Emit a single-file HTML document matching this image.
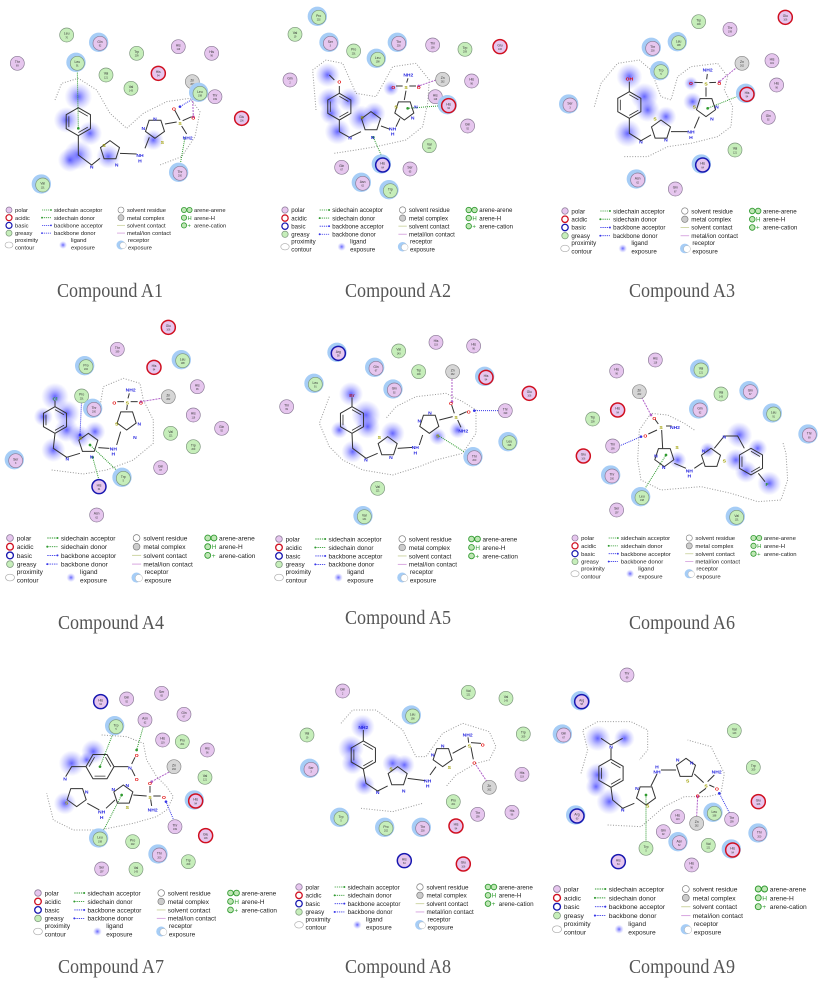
<!DOCTYPE html>
<html><head><meta charset="utf-8">
<style>
html,body{margin:0;padding:0;background:#fff;}
svg{display:block;font-family:"Liberation Sans",sans-serif;}
</style></head>
<body>
<svg id="fig" width="827" height="997" viewBox="0 0 827 997" xmlns="http://www.w3.org/2000/svg">
<defs>
<radialGradient id="blob"><stop offset="0" stop-color="#3030ff" stop-opacity="0.75"/><stop offset="0.5" stop-color="#5a5aff" stop-opacity="0.35"/><stop offset="1" stop-color="#8080ff" stop-opacity="0"/></radialGradient>
</defs>
</svg>
<script>
const NS="http://www.w3.org/2000/svg";
const svg=document.getElementById('fig');
function mk(tag,attrs,parent){const e=document.createElementNS(NS,tag);for(const k in attrs)e.setAttribute(k,attrs[k]);(parent||svg).appendChild(e);return e;}

// panel origins [x,y] in pixels
const panelOrigins=[[0,0],[276,0],[551,0],[0,320],[276,320],[551,320],[0,660],[276,660],[551,660]];
const captions=["Compound A1","Compound A2","Compound A3","Compound A4","Compound A5","Compound A6","Compound A7","Compound A8","Compound A9"];
const captionPos=[[110,290],[122,290],[131,290],[111,622],[122,617],[131,622],[111,966],[122,966],[131,966]];
const legendPos=[[9,210,1.0],[9,210,1.05],[14,211,1.07],[10,538,1.13],[3,539,1.1],[24,538,1.02],[38,893,1.1],[23,887,1.08],[6,889,1.15]];

// residues: [name, number, type, x, y, exposed]  (zoom units = 3x pixels)
const res1=[["Leu","70","g",200,105,0],["Gln","92","p",300,130,1],["Thr","69","p",52,190,0],["Leu","91","g",232,190,1],["Val","121","g",318,225,0],["Trp","209","g",410,160,0],["His","119","p",535,140,0],["His","96","p",635,160,0],["His","94","a",475,220,0],["Val","143","g",393,265,0],["Zn","262","m",577,245,0],["Leu","198","g",600,280,1],["Thr","199","p",645,290,0],["Glu","106","a",725,355,0],["Thr","200","p",540,520,1],["Val","131","g",128,555,1]];
const res2=[["Pro","202","g",128,52,1],["Val","19","g",57,103,0],["Ser","3","p",163,130,1],["Pro","201","g",233,153,0],["Leu","198","g",305,178,1],["Thr","200","p",368,130,1],["Thr","199","p",470,135,0],["Trp","209","g",567,148,0],["Glu","106","a",672,140,0],["Gln","2","p",42,240,0],["Zn","262","m",500,238,0],["His","96","p",587,243,0],["His","119","p",478,290,0],["His","94","a",518,317,1],["Gln","92","p",575,378,0],["Val","121","g",460,437,0],["Gln","67","p",197,502,0],["His","64","b",320,495,1],["Ser","65","p",402,507,0],["Asn","62","p",260,550,1],["Trp","5","g",343,572,1]];
const res3=[["Trp","209","g",443,65,0],["Glu","106","a",703,52,0],["Thr","199","p",537,88,0],["Leu","198","g",383,128,1],["Thr","200","p",305,145,1],["Trp","5","g",330,215,1],["Zn","262","m",573,190,0],["His","119","p",663,182,0],["His","96","p",677,255,0],["His","94","a",588,283,1],["Ser","3","p",57,315,1],["Gln","92","p",652,352,0],["Val","121","g",552,450,0],["His","64","b",455,495,1],["Asn","62","p",260,540,1],["Gln","67","p",373,567,0]];
const res4=[["Glu","106","a",505,22,0],["Thr","199","p",352,88,0],["Pro","202","g",258,140,1],["His","94","a",462,142,0],["Leu","198","g",548,122,1],["His","96","p",592,200,0],["Pro","201","g",245,228,0],["Zn","262","m",505,230,0],["Thr","200","p",282,268,1],["His","119","p",580,285,0],["Gln","92","p",665,325,0],["Val","121","g",512,340,0],["Trp","209","g",580,380,0],["Ser","3","p",47,422,1],["Gln","67","p",482,443,0],["Trp","5","g",370,475,1],["His","64","b",297,500,0],["Asn","62","p",290,585,0]];
const res5=[["His","119","p",480,67,0],["His","96","p",593,78,0],["Val","143","g",368,93,0],["Arg","58","b",187,100,1],["Gln","67","p",300,145,1],["Trp","209","g",428,155,0],["Zn","262","m",530,155,0],["His","94","a",630,172,1],["Leu","91","g",118,193,1],["Gln","92","p",355,210,1],["Glu","106","a",760,220,0],["Thr","69","p",32,260,0],["Thr","199","p",688,272,0],["Leu","198","g",700,368,1],["Thr","200","p",595,413,1],["Val","121","g",305,505,0],["Val","131","g",265,590,1]];
const res6=[["His","119","p",313,120,0],["His","96","p",197,153,0],["Val","121","g",450,150,1],["Zn","262","m",265,215,0],["Val","143","g",510,222,0],["Gln","67","p",598,215,1],["His","94","a",200,270,0],["Gln","92","p",447,270,1],["Leu","91","g",668,282,1],["Trp","209","g",125,297,0],["Thr","69","p",775,345,1],["Thr","199","p",185,378,0],["Glu","106","a",97,408,0],["Thr","200","p",183,468,1],["Leu","198","g",273,533,1],["Ser","197","p",197,570,0],["Val","131","g",557,592,1]];
const res7=[["His","64","b",302,125,0],["Gln","92","p",380,117,0],["Ser","65","p",485,100,0],["Gln","67","p",552,163,0],["Asn","62","p",435,180,0],["Trp","5","g",348,200,1],["His","119","p",488,240,0],["Pro","201","g",547,245,0],["His","96","p",622,270,0],["Zn","262","m",522,320,0],["Val","121","g",615,352,0],["His","94","a",587,423,1],["Glu","106","a",617,527,0],["Thr","199","p",525,500,0],["Leu","198","g",300,537,1],["Pro","202","g",398,545,0],["Thr","200","p",478,585,1],["Trp","209","g",565,605,0],["Ser","197","p",305,627,0],["Val","143","g",408,628,0]];
const res8=[["Gln","2","p",200,93,0],["Val","121","g",577,97,0],["Val","143","g",690,115,0],["Leu","198","g",410,168,1],["Val","19","g",93,225,0],["Trp","209","g",742,222,0],["Ser","3","p",105,328,1],["His","119","p",738,343,0],["Zn","262","m",640,382,0],["Pro","201","g",532,425,0],["Trp","5","g",195,475,1],["His","96","p",708,457,0],["Thr","199","p",605,463,0],["Pro","202","g",330,505,1],["Thr","200","p",440,505,1],["His","94","a",540,498,0],["His","64","b",385,602,0],["Glu","106","a",562,612,0]];
const res9=[["Thr","69","p",228,45,0],["Arg","58","b",92,125,1],["Gln","67","p",38,225,1],["Val","143","g",550,212,0],["Trp","209","g",607,322,0],["Glu","106","a",622,425,0],["Arg","60","b",78,468,1],["His","119","p",380,470,0],["Leu","198","g",490,460,1],["Thr","199","p",542,478,0],["Zn","262","m",437,490,0],["Gln","92","p",337,515,0],["Thr","200","p",625,522,1],["Asn","62","p",385,548,1],["Val","121","g",472,556,0],["Trp","5","g",285,565,0],["His","94","a",545,570,1],["His","64","b",202,605,0],["His","96","p",422,615,0]];
const residues=[res1,res2,res3,res4,res5,res6,res7,res8,res9];

// ligand geometry per panel (zoom units)
const lig=[
{rings:[[235,365,42,6,0],[330,452,30,5,0],[465,385,30,5,180]],
 bonds:[[235,407,235,465,275,495,300,475],[360,460,410,462],[435,445,448,412],[495,372,530,366],[540,360,524,330],[548,362,575,350],[545,378,560,402]],
 labels:[["N",275,500,"#2a2ae0"],["S",312,436,"#a0a000"],["N",350,495,"#2a2ae0"],["NH",420,466,"#2a2ae0"],["H",420,482,"#2a2ae0"],["N",465,357,"#2a2ae0"],["N",430,385,"#2a2ae0"],["S",487,427,"#a0a000"],["S",540,370,"#a0a000"],["O",522,327,"#e00000"],["O",580,354,"#e00000"],["NH2",563,414,"#2a2ae0"]],
 blobs:[[235,290,32],[200,360,30],[270,400,28],[235,465,34],[210,480,28],[325,470,28],[460,420,24]],
 contour:[[165,300],[185,250],[235,235],[290,270],[330,340],[380,385],[430,340],[500,305],[570,295],[600,335],[585,410],[545,470],[480,495]],
 inter:[[232,212,235,385,"g"],[590,290,540,320,"b"],[577,267,580,350,"m"],[555,412,540,498,"g"]]},
{rings:[[190,320,40,6,0],[285,365,30,5,0],[385,330,30,5,180]],
 bonds:[[190,280,190,258],[175,240,160,225],[190,360,190,395,220,412,255,395],[315,378,342,388],[360,380,372,355],[385,300,390,272],[380,258,360,258],[400,258,420,258],[392,248,396,235]],
 labels:[["O",190,245,"#e00000"],["N",222,414,"#2a2ae0"],["S",258,352,"#a0a000"],["N",290,412,"#2a2ae0"],["NH",350,386,"#2a2ae0"],["H",350,402,"#2a2ae0"],["S",360,320,"#a0a000"],["N",420,320,"#2a2ae0"],["N",410,354,"#2a2ae0"],["S",390,262,"#a0a000"],["O",352,262,"#e00000"],["O",428,262,"#e00000"],["NH2",397,224,"#2a2ae0"]],
 blobs:[[155,225,28],[160,300,28],[220,300,28],[165,340,26],[185,395,30],[255,355,30],[295,340,26],[345,265,18]],
 contour:[[120,330],[110,210],[150,180],[200,190],[240,280],[300,290],[350,200],[420,190],[460,240],[455,310],[440,380],[390,420],[300,440],[240,450],[175,460]],
 inter:[[320,475,292,412,"g"],[498,317,395,325,"g"],[480,240,428,258,"m"]]},
{rings:[[235,315,40,6,0],[330,390,30,5,0],[465,320,30,5,180]],
 bonds:[[235,275,235,245],[235,355,235,400,270,422,300,405],[360,395,410,395],[430,385,445,350],[465,290,465,262],[455,248,430,247],[475,248,495,247],[467,238,469,222]],
 labels:[["OH",235,236,"#e00000"],["N",270,426,"#2a2ae0"],["S",312,357,"#a0a000"],["N",345,420,"#2a2ae0"],["NH",420,396,"#2a2ae0"],["H",420,412,"#2a2ae0"],["S",430,320,"#a0a000"],["N",498,320,"#2a2ae0"],["N",483,357,"#2a2ae0"],["S",465,252,"#a0a000"],["O",420,250,"#e00000"],["O",505,250,"#e00000"],["NH2",470,210,"#2a2ae0"]],
 blobs:[[235,230,30],[280,290,32],[290,330,28],[230,400,32],[345,350,24],[425,305,22],[420,250,16]],
 contour:[[130,320],[150,250],[200,190],[265,180],[300,210],[330,290],[360,300],[380,230],[420,200],[500,190],[530,230],[520,270],[545,320],[540,380],[500,410],[420,430],[350,440],[290,470],[220,470]],
 inter:[[570,285,470,325,"g"],[560,200,505,245,"m"]]},
{rings:[[165,300,40,6,0],[265,370,30,5,0],[380,300,30,5,180]],
 bonds:[[165,260,165,242],[165,340,160,385,200,412,240,400],[295,383,328,385],[350,375,362,335],[380,270,382,255],[372,245,352,245],[392,245,413,245],[384,235,388,220]],
 labels:[["Cl",165,237,"#209020"],["N",202,416,"#2a2ae0"],["S",242,354,"#a0a000"],["N",275,410,"#2a2ae0"],["NH",340,386,"#2a2ae0"],["H",340,402,"#2a2ae0"],["S",350,312,"#a0a000"],["N",418,312,"#2a2ae0"],["N",405,352,"#2a2ae0"],["S",382,249,"#a0a000"],["O",343,249,"#e00000"],["O",423,249,"#e00000"],["NH2",392,210,"#2a2ae0"]],
 blobs:[[165,230,32],[200,280,30],[200,330,28],[130,290,22],[160,390,28],[240,350,26],[285,335,24]],
 contour:[[155,450],[250,462],[320,450],[400,420],[460,370],[460,300],[430,240],[420,190],[370,175],[310,200],[300,260],[265,290],[262,250]],
 inter:[[245,236,240,345,"b"],[297,480,278,412,"g"],[365,465,270,375,"g"],[490,234,423,245,"m"]]},
{rings:[[228,300,40,6,0],[335,380,30,5,0],[460,310,30,5,180]],
 bonds:[[228,260,228,232],[228,340,230,385,270,415,305,400],[365,385,410,382],[430,375,440,345],[490,300,530,290],[535,280,527,255],[550,285,572,275],[545,300,555,322]],
 labels:[["Br",228,226,"#a02040"],["N",270,420,"#2a2ae0"],["S",310,352,"#a0a000"],["N",345,412,"#2a2ae0"],["NH",418,382,"#2a2ae0"],["H",418,398,"#2a2ae0"],["N",462,278,"#2a2ae0"],["N",430,302,"#2a2ae0"],["S",485,347,"#a0a000"],["S",540,292,"#a0a000"],["O",525,250,"#e00000"],["O",578,275,"#e00000"],["NH2",562,332,"#2a2ae0"]],
 blobs:[[225,222,28],[270,285,34],[275,320,28],[190,330,20],[230,395,26],[350,340,28],[485,350,20],[545,330,20]],
 contour:[[160,230],[130,310],[160,380],[200,420],[260,450],[350,465],[430,440],[480,420],[560,400],[600,340],[600,270],[560,245],[510,220],[420,230],[360,260],[330,295]],
 inter:[[528,177,528,245,"m"],[666,272,595,272,"b"],[485,345,580,405,"g"]]},
{rings:[[340,410,30,5,180],[480,415,30,5,0],[600,425,40,6,0]],
 bonds:[[335,385,332,330],[322,312,312,298],[318,330,292,342],[345,318,362,318],[370,430,405,445],[430,445,455,428],[490,385,520,348,560,348,580,385],[622,460,642,485]],
 labels:[["N",315,407,"#2a2ae0"],["N",338,442,"#2a2ae0"],["S",378,382,"#a0a000"],["NH",415,452,"#2a2ae0"],["H",415,468,"#2a2ae0"],["N",458,392,"#2a2ae0"],["S",520,422,"#a0a000"],["N",520,350,"#2a2ae0"],["F",648,493,"#209020"],["S",330,322,"#a0a000"],["O",310,295,"#e00000"],["O",283,348,"#e00000"],["NH2",372,322,"#2a2ae0"]],
 blobs:[[565,345,30],[555,420,26],[620,385,22],[585,455,26],[655,490,28],[470,390,18],[380,420,20]],
 contour:[[430,330],[400,310],[350,285],[300,280],[265,330],[260,420],[270,480],[330,510],[450,500],[540,520],[620,545],[690,540],[710,480],[705,400],[695,365]],
 inter:[[272,232,300,285,"m"],[205,378,270,350,"b"],[278,512,345,405,"g"]]},
{rings:[[300,320,42,6,30],[230,410,30,5,180],[370,405,30,5,0]],
 bonds:[[342,320,385,320],[395,312,405,292],[395,328,405,348],[258,320,215,320,197,350],[262,430,298,450],[318,445,345,420],[400,405,440,408],[450,398,450,378],[460,408,482,408],[452,418,455,438]],
 labels:[["N",390,324,"#2a2ae0"],["O",410,286,"#e00000"],["O",410,358,"#e00000"],["N",195,356,"#2a2ae0"],["N",260,395,"#2a2ae0"],["S",200,428,"#a0a000"],["NH",305,456,"#2a2ae0"],["H",305,472,"#2a2ae0"],["N",340,388,"#2a2ae0"],["N",382,376,"#2a2ae0"],["S",382,442,"#a0a000"],["S",450,412,"#a0a000"],["O",450,370,"#e00000"],["O",492,412,"#e00000"],["NH2",458,450,"#2a2ae0"]],
 blobs:[[215,310,30],[280,275,28],[195,430,26],[260,300,18]],
 contour:[[305,225],[380,230],[430,250],[440,300],[470,350],[500,380],[520,410],[500,450],[470,470],[400,490],[350,500],[300,510],[220,510],[160,480],[140,400]],
 inter:[[340,218,300,320,"g"],[430,200,410,270,"g"],[515,332,455,365,"m"],[522,482,498,425,"b"],[305,522,365,405,"g"]]},
{rings:[[262,285,42,6,0],[365,350,30,5,0],[500,290,30,5,180]],
 bonds:[[262,243,262,210],[262,327,270,370,305,393,335,378],[395,355,448,362],[462,345,480,320],[530,280,570,258],[585,248,615,250],[585,262,592,298],[578,248,576,232]],
 labels:[["NH2",262,202,"#2a2ae0"],["N",305,397,"#2a2ae0"],["S",345,327,"#a0a000"],["N",383,392,"#2a2ae0"],["NH",455,362,"#2a2ae0"],["H",455,378,"#2a2ae0"],["N",470,284,"#2a2ae0"],["N",500,257,"#2a2ae0"],["S",520,322,"#a0a000"],["S",580,258,"#a0a000"],["O",620,255,"#e00000"],["O",595,308,"#e00000"],["NH2",575,224,"#2a2ae0"]],
 blobs:[[260,200,28],[225,265,30],[230,310,26],[265,375,24],[350,310,24],[385,315,24]],
 contour:[[195,190],[230,150],[300,150],[380,210],[420,290],[450,290],[500,220],[560,190],[640,215],[660,260],[640,300],[600,310],[540,345],[510,380]],
 contour2:[[255,445],[350,455],[440,430]],
 inter:[[600,315,635,368,"m"]]},
{rings:[[180,340,42,6,0],[285,405,30,5,180],[405,325,30,5,0]],
 bonds:[[180,255,150,235],[180,255,215,235],[180,265,180,298],[180,382,185,420,215,445,250,430],[300,378,318,342],[330,330,375,330],[430,342,458,368],[465,385,445,400],[475,375,490,382],[470,365,490,345]],
 labels:[["N",180,260,"#2a2ae0"],["N",215,450,"#2a2ae0"],["N",258,385,"#2a2ae0"],["S",290,438,"#a0a000"],["NH",318,335,"#2a2ae0"],["H",318,320,"#2a2ae0"],["N",380,300,"#2a2ae0"],["N",422,308,"#2a2ae0"],["S",410,362,"#a0a000"],["S",465,378,"#a0a000"],["O",440,408,"#e00000"],["O",498,386,"#e00000"],["NH2",497,336,"#2a2ae0"]],
 blobs:[[140,235,30],[220,235,24],[140,345,28],[135,380,24],[175,425,30]],
 contour:[[90,340],[110,270],[95,210],[140,185],[240,185],[290,210],[290,270],[265,300]],
 contour2:[[170,495],[270,500],[340,440],[400,410],[470,410],[510,400],[520,340],[480,260],[410,240]],
 inter:[[285,545,285,405,"g"],[437,470,440,410,"m"],[535,458,505,400,"b"]]}
];

const typeStyle={p:["#e6c6ee","#8a7a96",2],g:["#c6eeba","#7c967c",2],a:["#e6c6ee","#d01020",4.5],b:["#e6c6ee","#1818b0",4.5],m:["#d6d6d6","#888888",2]};
const interColor={g:"#2f9a2f",b:"#3535e8",m:"#b060c8"};

function pathFrom(pts){return "M"+pts.map(p=>p[0]+","+p[1]).join(" L");}

for(let i=0;i<9;i++){
  const [ox,oy]=panelOrigins[i];
  const P=mk('g',{transform:`translate(${ox},${oy})`});
  
  
  const D=mk('g',{transform:'scale(0.3333)'},P);
  
  
  const L=lig[i];
  L.blobs.forEach(b=>{const c=mk('circle',{cx:b[0],cy:b[1],r:b[2]*1.3,fill:'url(#blob)'},D);
    
    });
  [L.contour,L.contour2].forEach(ct=>{if(!ct)return;
    const c=mk('path',{d:pathFrom(ct),fill:'none',stroke:'#999',"stroke-width":3,"stroke-dasharray":"3 5","stroke-linejoin":"round"},D);
    
    });
  L.inter.forEach(t=>{const c=mk('line',{x1:t[0],y1:t[1],x2:t[2],y2:t[3],stroke:interColor[t[4]],"stroke-width":3,"stroke-dasharray":t[4]=="m"?"6 3":"3 3"},D);
    
    
    mk('circle',{cx:t[2],cy:t[3],r:4,fill:interColor[t[4]]},D);});
  L.rings.forEach(r=>{const [cx,cy,rad,n,rot]=r;const pts=[];
    for(let k=0;k<n;k++){const a=(-90+rot+k*360/n)*Math.PI/180;pts.push([cx+rad*Math.cos(a),cy+rad*Math.sin(a)]);}
    const c=mk('path',{d:pathFrom(pts)+"Z",fill:'none',stroke:'#333',"stroke-width":3},D);
    
    
    if(n==6){const inner=pts.map(p=>[cx+(p[0]-cx)*0.78,cy+(p[1]-cy)*0.78]);
      mk('path',{d:`M${inner[0]} L${inner[1]} M${inner[2]} L${inner[3]} M${inner[4]} L${inner[5]}`,fill:'none',stroke:'#333',"stroke-width":2.5},D);}});
  L.bonds.forEach(b=>{const pts=[];for(let k=0;k<b.length;k+=2)pts.push([b[k],b[k+1]]);
    const c=mk('path',{d:pathFrom(pts),fill:'none',stroke:'#333',"stroke-width":3},D);
    
    });
  L.labels.forEach(l=>{const t=mk('text',{x:l[1],y:l[2]+5,"font-size":15,"text-anchor":"middle",fill:l[3],"font-weight":"bold"},D);
    t.textContent=l[0];
    
    });
  residues[i].forEach(r=>{const [nm,num,ty,x,y,ex]=r;const st=typeStyle[ty];
    const g=mk('g',{},D);
    
    
    if(ex)mk('circle',{cx:x-4,cy:y-3,r:29,fill:'#a6cdf6'},g);
    mk('circle',{cx:x,cy:y,r:21,fill:st[0],stroke:st[1],"stroke-width":st[2]},g);
    const t1=mk('text',{x:x,y:y-1,"font-size":10,"text-anchor":"middle",fill:'#333'},g);t1.textContent=nm;
    const t2=mk('text',{x:x,y:y+10,"font-size":7,"text-anchor":"middle",fill:'#333'},g);t2.textContent=num;});

  // legend (x local to panel, y absolute)
  const [lx,ly,ls]=legendPos[i];
  const G=mk('g',{transform:`translate(${ox+lx},${ly}) scale(${ls})`});
  
  
  const fs=5.8,dy=7.7;
  const col1=[["polar","#e6c6ee","#8a7a96",0.7],["acidic","#fff","#d01020",1.2],["basic","#fff","#1818b0",1.2],["greasy","#c6eeba","#7c967c",0.7]];
  col1.forEach((c,k)=>{mk('circle',{cx:0,cy:k*dy,r:3,fill:c[1],stroke:c[2],"stroke-width":c[3]},G);
    const t=mk('text',{x:6,y:k*dy+2.1,"font-size":fs,fill:'#222'},G);t.textContent=c[0];
    });
  const col2=[["sidechain acceptor","#2f9a2f",1],["sidechain donor","#2f9a2f",-1],["backbone acceptor","#3535e8",1],["backbone donor","#3535e8",-1]];
  col2.forEach((c,k)=>{const y=k*dy;mk('line',{x1:33,y1:y,x2:42,y2:y,stroke:c[1],"stroke-width":0.8,"stroke-dasharray":"1.2 0.8"},G);
    mk('circle',{cx:c[2]>0?42:33,cy:y,r:0.9,fill:c[1]},G);
    const t=mk('text',{x:45,y:y+2.1,"font-size":fs,fill:'#222'},G);t.textContent=c[0];
    });
  const col3=[["solvent residue","c","#fff"],["metal complex","c","#ccc"],["solvent contact","l","#cfd6a6"],["metal/ion contact","l","#d8a8e0"]];
  col3.forEach((c,k)=>{const y=k*dy;
    if(c[1]=="c")mk('circle',{cx:112,cy:y,r:3,fill:c[2],stroke:'#777',"stroke-width":0.6},G);
    else mk('line',{x1:108,y1:y,x2:116,y2:y,stroke:c[2],"stroke-width":0.9},G);
    const t=mk('text',{x:118,y:y+2.1,"font-size":fs,fill:'#222'},G);t.textContent=c[0];
    });
  const col4=[["arene-arene","oo"],["arene-H","H"],["arene-cation","+"]];
  col4.forEach((c,k)=>{const y=k*dy;
    mk('circle',{cx:175,cy:y,r:2.6,fill:'#bfe6b5',stroke:'#2f9a2f',"stroke-width":0.8},G);
    if(c[1]=="oo")mk('circle',{cx:180.5,cy:y,r:2.6,fill:'#bfe6b5',stroke:'#2f9a2f',"stroke-width":0.8},G);
    else{const tt=mk('text',{x:178.5,y:y+2.1,"font-size":fs,fill:'#2f9a2f'},G);tt.textContent=c[1];}
    const t=mk('text',{x:185,y:y+2.1,"font-size":fs,fill:'#222'},G);t.textContent=c[0];
    });
  mk('ellipse',{cx:0,cy:35,rx:4,ry:3,fill:'#fff',stroke:'#aaa',"stroke-width":0.6},G);
  [["proximity",6,32],["contour",6,39.5],["ligand",62,32],["exposure",62,39.5],["receptor",119,32],["exposure",119,39.5]].forEach(a=>{
    const t=mk('text',{x:a[1],y:a[2],"font-size":fs,fill:'#222'},G);t.textContent=a[0];
    });
  mk('circle',{cx:54,cy:35,r:4,fill:'url(#blob)'},G);
  mk('circle',{cx:112,cy:35,r:4.5,fill:'#a6cdf6'},G);
  mk('circle',{cx:114,cy:35.5,r:3.2,fill:'#fff',stroke:'#aaa',"stroke-width":0.4},G);

  // caption
  const [cx,cy]=captionPos[i];
  const cap=mk('text',{x:ox+cx,y:cy+7,"font-size":20,"text-anchor":"middle",fill:'#555',"font-family":'"Liberation Serif",serif',textLength:106,lengthAdjust:'spacingAndGlyphs'});
  cap.textContent=captions[i];
  
  
}
</script>
</body></html>
